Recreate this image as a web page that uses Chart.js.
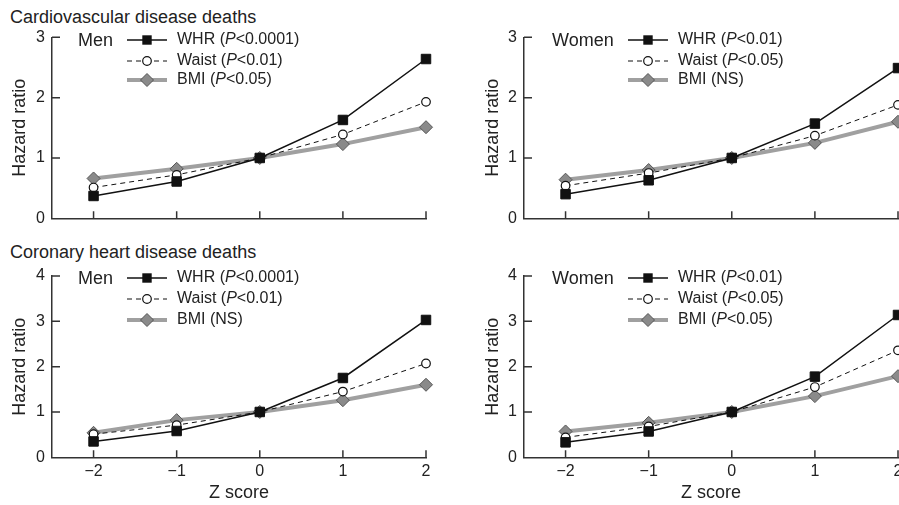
<!DOCTYPE html>
<html>
<head>
<meta charset="utf-8">
<script src="https://cdn.jsdelivr.net/npm/chart.js@4/dist/chart.umd.min.js"></script>
<style>
  html, body { margin: 0; padding: 0; background: #fff; overflow: hidden; width: 899px; height: 505px; }
  .panel { position: absolute; }
  .heading { position: absolute; left: 10px; font: 18px 'Liberation Sans', Arial, sans-serif; color: #222; line-height: 20px; white-space: nowrap; }
</style>
</head>
<body>
<div class="heading" style="top:7px">Cardiovascular disease deaths</div>
<div class="heading" style="top:242px">Coronary heart disease deaths</div>
<canvas id="cvdMen" class="panel" width="450" height="240" style="left:0;top:0"></canvas>
<canvas id="cvdWomen" class="panel" width="480" height="240" style="left:450px;top:0"></canvas>
<canvas id="chdMen" class="panel" width="450" height="265" style="left:0;top:240px"></canvas>
<canvas id="chdWomen" class="panel" width="480" height="265" style="left:450px;top:240px"></canvas>
<script>
// Data (hazard ratio by Z score)
const zScores = [-2, -1, 0, 1, 2];
const xTicks = [-2, -1, 0, 1, 2];
const cvdTicksY = [0, 1, 2, 3];
const chdTicksY = [0, 1, 2, 3, 4];
const seriesNames = ['WHR', 'Waist', 'BMI'];

const cvdMenWHR = [0.37, 0.61, 1.0, 1.63, 2.64];
const cvdMenWaist = [0.51, 0.72, 1.0, 1.39, 1.93];
const cvdMenBMI = [0.66, 0.82, 1.0, 1.23, 1.51];

const cvdWomenWHR = [0.40, 0.63, 1.0, 1.57, 2.49];
const cvdWomenWaist = [0.54, 0.75, 1.0, 1.37, 1.88];
const cvdWomenBMI = [0.64, 0.80, 1.0, 1.25, 1.60];

const chdMenWHR = [0.35, 0.58, 1.0, 1.75, 3.03];
const chdMenWaist = [0.51, 0.71, 1.0, 1.45, 2.07];
const chdMenBMI = [0.54, 0.82, 1.0, 1.26, 1.60];

const chdWomenWHR = [0.33, 0.57, 1.0, 1.78, 3.14];
const chdWomenWaist = [0.44, 0.68, 1.0, 1.55, 2.36];
const chdWomenBMI = [0.57, 0.76, 1.0, 1.35, 1.79];

const pCvdMen = ['<0.0001', '<0.01', '<0.05'];
const pCvdWomen = ['<0.01', '<0.05', 'NS'];
const pChdMen = ['<0.0001', '<0.01', 'NS'];
const pChdWomen = ['<0.01', '<0.05', '<0.05'];

const FONT = "'Liberation Sans', Arial, sans-serif";
const axisColor = '#333';
const textColor = '#222';
const whrColor = '#111';
const bmiLine = '#a0a0a0';
const bmiFill = '#8a8a8a';

function drawMarker(ctx, kind, x, y) {
  ctx.save();
  ctx.lineWidth = 1;
  if (kind === 0) {
    ctx.fillStyle = whrColor;
    ctx.fillRect(x - 4.7, y - 4.7, 9.4, 9.4);
  } else if (kind === 1) {
    ctx.beginPath();
    ctx.arc(x, y, 4.3, 0, Math.PI * 2);
    ctx.fillStyle = '#fff'; ctx.fill();
    ctx.strokeStyle = whrColor; ctx.lineWidth = 1.2; ctx.stroke();
  } else {
    ctx.beginPath();
    ctx.moveTo(x - 6.5, y); ctx.lineTo(x, y - 6.5); ctx.lineTo(x + 6.5, y); ctx.lineTo(x, y + 6.5);
    ctx.closePath();
    ctx.fillStyle = bmiFill; ctx.fill();
    ctx.strokeStyle = '#555'; ctx.stroke();
  }
  ctx.restore();
}

// inward tick marks on both axes
const innerTicks = {
  id: 'innerTicks',
  beforeDatasetsDraw(chart) {
    const { ctx, chartArea, scales: { x, y } } = chart;
    ctx.save();
    ctx.strokeStyle = axisColor;
    ctx.lineWidth = 1.5;
    ctx.beginPath();
    x.ticks.forEach(t => {
      const px = x.getPixelForValue(t.value);
      ctx.moveTo(px, chartArea.bottom);
      ctx.lineTo(px, chartArea.bottom - 7);
    });
    y.ticks.forEach(t => {
      if (t.value === 0) return;
      const py = y.getPixelForValue(t.value);
      ctx.moveTo(chartArea.left, py);
      ctx.lineTo(chartArea.left + 8, py);
    });
    ctx.stroke();
    ctx.restore();
  }
};

// legend block with italic P
const panelLegend = {
  id: 'panelLegend',
  afterDraw(chart, args, opts) {
    const { ctx } = chart;
    const lx = opts.x;
    const rows = opts.rows;
    ctx.save();
    ctx.textBaseline = 'middle';
    ctx.fillStyle = textColor;
    ctx.font = '18px ' + FONT;
    ctx.fillText(opts.sex, lx, opts.sexY);
    const s0 = lx + opts.sampleOffset, s1 = s0 + 40, tx = s1 + 10;
    seriesNames.forEach((name, i) => {
      const yy = rows[i];
      ctx.save();
      ctx.beginPath();
      if (i === 0) { ctx.strokeStyle = whrColor; ctx.lineWidth = 1.5; }
      else if (i === 1) { ctx.strokeStyle = whrColor; ctx.lineWidth = 1; ctx.setLineDash([5, 4]); }
      else { ctx.strokeStyle = bmiLine; ctx.lineWidth = 4; }
      ctx.moveTo(s0, yy); ctx.lineTo(s1, yy);
      ctx.stroke();
      ctx.restore();
      drawMarker(ctx, i, (s0 + s1) / 2, yy);

      ctx.fillStyle = textColor;
      const p = opts.p[i];
      let x = tx;
      ctx.font = '16px ' + FONT;
      if (p === 'NS') {
        ctx.fillText(name + ' (NS)', x, yy);
      } else {
        const a = name + ' (';
        ctx.fillText(a, x, yy); x += ctx.measureText(a).width;
        ctx.font = 'italic 16px ' + FONT;
        ctx.fillText('P', x, yy); x += ctx.measureText('P').width;
        ctx.font = '16px ' + FONT;
        ctx.fillText(p + ')', x, yy);
      }
    });
    ctx.restore();
  }
};

function makePanel(id, whr, waist, bmi, yTicks, cfg) {
  const pts = arr => zScores.map((z, i) => ({ x: z, y: arr[i] }));
  new Chart(document.getElementById(id), {
    type: 'line',
    data: {
      datasets: [
        {
          label: 'WHR', data: pts(whr),
          borderColor: whrColor, borderWidth: 1.5,
          pointStyle: 'rect', pointRadius: 6.7,
          pointBackgroundColor: whrColor, pointBorderColor: whrColor, pointBorderWidth: 1,
          clip: false
        },
        {
          label: 'Waist', data: pts(waist),
          borderColor: whrColor, borderWidth: 1, borderDash: [5, 4],
          pointStyle: 'circle', pointRadius: 4.3,
          pointBackgroundColor: '#fff', pointBorderColor: whrColor, pointBorderWidth: 1.2,
          clip: false
        },
        {
          label: 'BMI', data: pts(bmi),
          borderColor: bmiLine, borderWidth: 4,
          pointStyle: 'rectRot', pointRadius: 6.5,
          pointBackgroundColor: bmiFill, pointBorderColor: '#555', pointBorderWidth: 1,
          clip: false
        }
      ]
    },
    options: {
      responsive: false,
      animation: false,
      events: [],
      devicePixelRatio: 1,
      layout: { padding: { top: cfg.padTop, right: cfg.padRight, left: 0, bottom: 0 } },
      plugins: {
        legend: { display: false },
        tooltip: { enabled: false },
        panelLegend: cfg.legend
      },
      scales: {
        x: {
          type: 'linear', min: -2.5, max: 2,
          afterBuildTicks: s => { s.ticks = xTicks.map(v => ({ value: v })); },
          afterFit: s => { s.height = cfg.xHeight; },
          grid: { display: false, drawTicks: false },
          border: { display: true, color: axisColor, width: 1.5 },
          ticks: {
            display: cfg.bottom, padding: 5, color: textColor,
            font: { family: FONT, size: 16 },
            callback: v => v < 0 ? '\u2212' + Math.abs(v) : String(v)
          },
          title: {
            display: cfg.bottom, text: 'Z score', color: textColor,
            font: { family: FONT, size: 18 }, padding: { top: 0, bottom: 1 }
          }
        },
        y: {
          min: 0, max: yTicks[yTicks.length - 1],
          afterBuildTicks: s => { s.ticks = yTicks.map(v => ({ value: v })); },
          afterFit: s => { s.width = cfg.yWidth; },
          grid: { display: false, drawTicks: false },
          border: { display: true, color: axisColor, width: 1.5 },
          ticks: { padding: 7, color: textColor, font: { family: FONT, size: 16 } },
          title: {
            display: true, text: 'Hazard ratio', color: textColor,
            font: { family: FONT, size: 18 }, padding: { top: cfg.titlePad, bottom: 0 }
          }
        }
      }
    },
    plugins: [innerTicks, panelLegend]
  });
}

const leftLegend = (sex, p, rows, sexY) => ({ sex, p, rows, sexY, x: 78, sampleOffset: 49 });
const rightLegend = (sex, p, rows, sexY) => ({ sex, p, rows, sexY, x: 102, sampleOffset: 76 });

makePanel('cvdMen', cvdMenWHR, cvdMenWaist, cvdMenBMI, cvdTicksY, {
  padTop: 37.3, padRight: 24, yWidth: 52, xHeight: 21.7, titlePad: 9.2, bottom: false,
  legend: leftLegend('Men', pCvdMen, [40, 61, 80], 41.5)
});
makePanel('cvdWomen', cvdWomenWHR, cvdWomenWaist, cvdWomenBMI, cvdTicksY, {
  padTop: 37.3, padRight: 32, yWidth: 74, xHeight: 21.7, titlePad: 32.2, bottom: false,
  legend: rightLegend('Women', pCvdWomen, [40, 61, 80], 41.5)
});
makePanel('chdMen', chdMenWHR, chdMenWaist, chdMenBMI, chdTicksY, {
  padTop: 36, padRight: 24, yWidth: 52, xHeight: 47.7, titlePad: 9.2, bottom: true,
  legend: leftLegend('Men', pChdMen, [38, 59, 80], 39)
});
makePanel('chdWomen', chdWomenWHR, chdWomenWaist, chdWomenBMI, chdTicksY, {
  padTop: 36, padRight: 32, yWidth: 74, xHeight: 47.7, titlePad: 32.2, bottom: true,
  legend: rightLegend('Women', pChdWomen, [38, 59, 80], 39)
});
</script>
</body>
</html>
